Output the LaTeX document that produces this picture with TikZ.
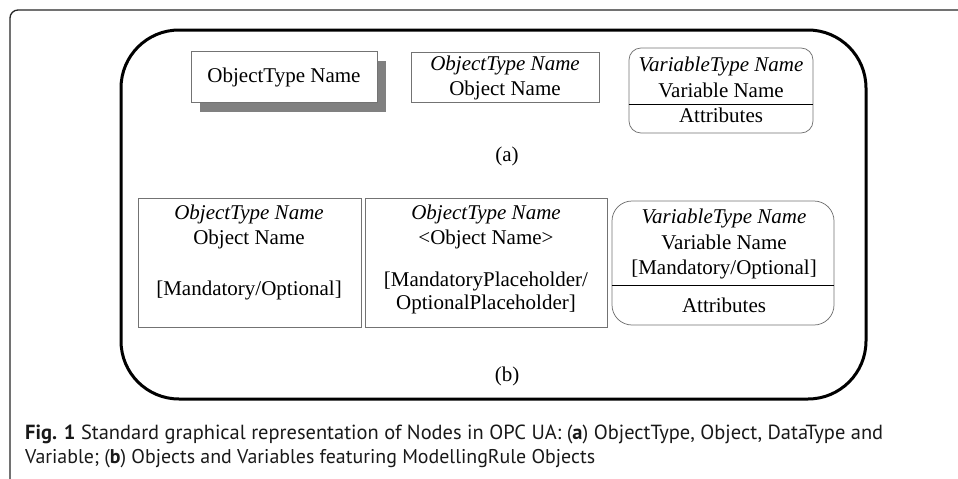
\documentclass[tikz,border=0pt]{standalone}
\usepackage{fontspec}
\setmainfont{Liberation Serif}
\newfontfamily\capfont{PT Sans}
\begin{document}
\begin{tikzpicture}[x=1pt,y=-1pt,
  box/.style={draw=black!55, line width=0.75pt, fill=white, inner sep=0pt},
  lbl/.style={font=\fontsize{21}{25}\selectfont, inner sep=0pt, anchor=base},
  ilbl/.style={lbl, font=\fontsize{21}{25}\selectfont\itshape},
  divider/.style={draw=black, line width=0.75pt},
  caption/.style={anchor=base west, inner sep=0pt, text=black!90}
]
\useasboundingbox (0,0) rectangle (958,479);
% outer open frame
\draw[line width=1.3pt, black!85, rounded corners=8pt] (10,479) -- (10,10) -- (958,10);
% inner thick frame
\draw[line width=3pt, rounded corners=58pt] (121,30) rectangle (866,399);

% ----- (a) row -----
\fill[black!50] (200,61) rectangle (386,112);
\node[box, minimum width=186pt, minimum height=51pt] (otbox) at (284,76.5) {};
\node[lbl] (ottext) at (284,82) {ObjectType Name};

\node[box, minimum width=188pt, minimum height=50pt] (objbox) at (505,77) {};
\node[ilbl] (objtype) at (505,70) {ObjectType Name};
\node[lbl] (objname) at (505,95) {Object Name};

\node[box, rounded corners=12pt, minimum width=184pt, minimum height=85pt] (varbox) at (721,90.5) {};
\draw[divider] (varbox.west |- 0,104) -- (varbox.east |- 0,104);
\node[ilbl] (vartype) at (721,71) {VariableType Name};
\node[lbl] (varname) at (721,97) {Variable Name};
\node[lbl] (varattr) at (721,122) {Attributes};

\node[inner sep=0pt, font=\fontsize{21}{25}\selectfont] (labela) at (507,156) {(a)};

% ----- (b) row -----
\node[box, minimum width=223pt, minimum height=129pt] (bobj) at (249.5,262.5) {};
\node[ilbl] (bobjtype) at (249,219) {ObjectType Name};
\node[lbl] (bobjname) at (249,244) {Object Name};
\node[lbl] (bobjrule) at (249,295) {[Mandatory/Optional]};

\node[box, minimum width=242pt, minimum height=129pt] (bph) at (486,262.5) {};
\node[ilbl] (bphtype) at (486,219) {ObjectType Name};
\node[lbl] (bphname) at (486,244) {<Object Name>};
\node[lbl] (bphrule1) at (486,286) {[MandatoryPlaceholder/};
\node[lbl] (bphrule2) at (486,309) {OptionalPlaceholder]};

\node[box, rounded corners=20pt, minimum width=222pt, minimum height=124pt] (bvar) at (723,263) {};
\draw[divider] (bvar.west |- 0,285) -- (bvar.east |- 0,285);
\node[ilbl] (bvartype) at (724,223) {VariableType Name};
\node[lbl] (bvarname) at (724,249) {Variable Name};
\node[lbl] (bvarrule) at (724,274) {[Mandatory/Optional]};
\node[lbl] (bvarattr) at (724,312.5) {Attributes};

\node[inner sep=0pt, font=\fontsize{21}{25}\selectfont] (labelb) at (507,376) {(b)};

% ----- caption -----
\node[caption] (cap1) at (25,439) {\resizebox{858pt}{!}{\capfont\fontsize{20}{24}\selectfont\textbf{Fig. 1} Standard graphical representation of Nodes in OPC UA: (\textbf{a}) ObjectType, Object, DataType and}};
\node[caption] (cap2) at (25,463) {\resizebox{570pt}{!}{\capfont\fontsize{20}{24}\selectfont Variable; (\textbf{b}) Objects and Variables featuring ModellingRule Objects}};
\end{tikzpicture}
\end{document}
